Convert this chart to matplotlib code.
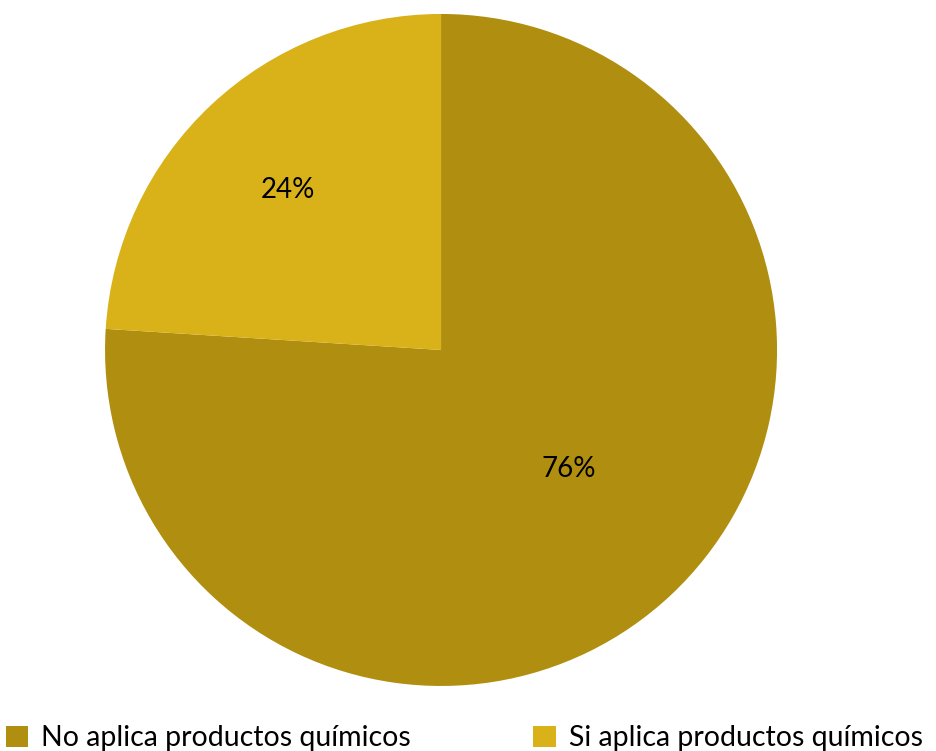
import matplotlib
matplotlib.use("Agg")
import matplotlib.pyplot as plt
import numpy as np

plt.rcParams['font.family'] = ['Lato', 'DejaVu Sans']

categories = ["No aplica productos químicos", "Si aplica productos químicos"]
values = [76, 24]
colors = ["#B08E10", "#D9B219"]
label_radius = [0.52, 0.66]
label_turn = [4.0, 0.5]

fig = plt.figure(figsize=(9.37, 7.51), dpi=100)
ax = fig.add_axes([0.1121, 0.0866, 0.7172, 0.8948])

wedges, texts = ax.pie(values, colors=colors, startangle=90, counterclock=False,
                       wedgeprops=dict(linewidth=0))
total = sum(values)
for w, v, r, t in zip(wedges, values, label_radius, label_turn):
    mid = np.deg2rad((w.theta1 + w.theta2) / 2 + t)
    ax.text(r * np.cos(mid), r * np.sin(mid), f"{v / total * 100:.0f}%",
            ha="center", va="center", fontsize=20, color="black")
ax.set_aspect("equal")
ax.set_xlim(-1, 1)
ax.set_ylim(-1, 1)

leg = fig.legend(wedges, categories, loc="lower left", bbox_to_anchor=(0.0, -0.008),
                 ncol=2, frameon=False, fontsize=20.5, handlelength=0.8, handleheight=0.8,
                 handletextpad=0.45, columnspacing=4.3, borderaxespad=0, borderpad=0.2)

fig.savefig("out.png", dpi=100)
